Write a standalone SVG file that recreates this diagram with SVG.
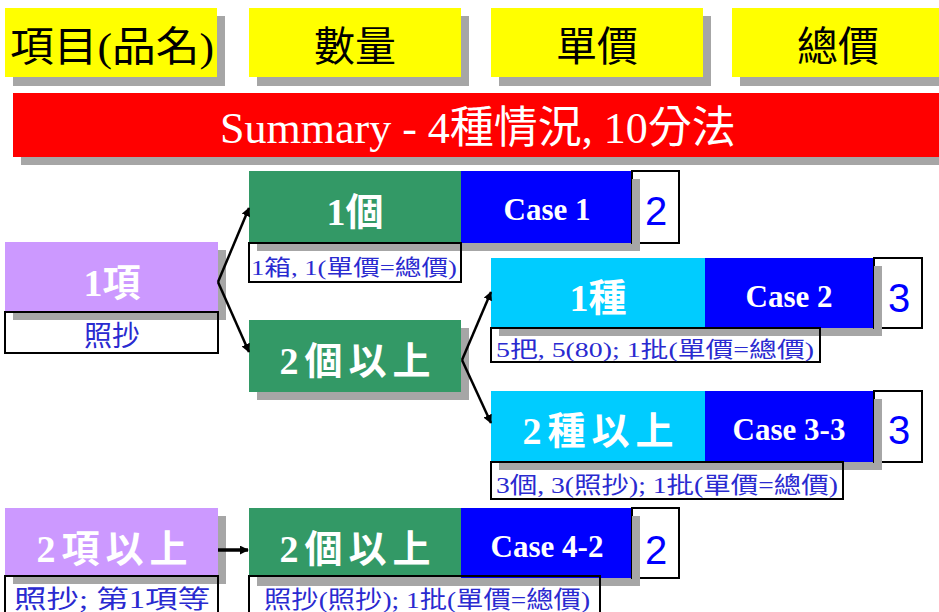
<svg xmlns="http://www.w3.org/2000/svg" width="939" height="612" viewBox="0 0 939 612">
<defs>
<marker id="ah" viewBox="0 0 10 10" refX="9" refY="5" markerWidth="9" markerHeight="9" orient="auto" markerUnits="userSpaceOnUse">
<path d="M0,0 L10,5 L0,10 z" fill="#000"/>
</marker>
<style>
.sh{fill:#a6a6a6}
.yel{fill:#ffff00}
.red{fill:#ff0000}
.pur{fill:#cc99ff}
.grn{fill:#339966}
.cyn{fill:#00ccff}
.blu{fill:#0000ff}
.wb{fill:#fff}
.bd{fill:none;stroke:#000;stroke-width:2}
.hd{font-family:"Liberation Serif","Noto Sans CJK TC",serif;font-size:41px;fill:#000;text-anchor:middle}
.big{font-family:"Liberation Serif","Noto Sans CJK TC",serif;font-size:38px;font-weight:bold;fill:#fff;text-anchor:middle}
.big4{letter-spacing:6px}
.case{font-family:"Liberation Serif",serif;font-size:31px;font-weight:bold;fill:#fff;text-anchor:middle}
.num{font-family:"Liberation Sans",sans-serif;font-size:40px;fill:#0000ff;text-anchor:middle}
.sub{font-family:"Liberation Serif","Noto Sans CJK TC",serif;font-size:21px;fill:#2a2ad0}
.con{stroke:#000;stroke-width:2.5;fill:none;marker-end:url(#ah)}
</style>
</defs>
<rect width="939" height="612" fill="#fff"/>

<g id="h1"><rect class="sh" x="13" y="16" width="212" height="70"/><rect class="yel" x="5" y="8" width="212" height="69"/><text class="hd" x="112" y="61" textLength="204" lengthAdjust="spacingAndGlyphs">項目(品名)</text></g>
<g id="h2"><rect class="sh" x="257" y="16" width="212" height="70"/><rect class="yel" x="249" y="8" width="212" height="69"/><text class="hd" x="355" y="61">數量</text></g>
<g id="h3"><rect class="sh" x="499" y="16" width="212" height="70"/><rect class="yel" x="491" y="8" width="212" height="69"/><text class="hd" x="597" y="61">單價</text></g>
<g id="h4"><rect class="sh" x="740" y="16" width="210" height="70"/><rect class="yel" x="732" y="8" width="210" height="69"/><text class="hd" x="838" y="61">總價</text></g>

<g id="summary"><rect class="sh" x="21" y="101" width="930" height="64"/><rect class="red" x="13" y="93" width="930" height="64"/><text x="478" y="143" font-family="'Liberation Serif','Noto Sans CJK TC',serif" font-size="44" fill="#fff" text-anchor="middle">Summary - 4種情況, 10分法</text></g>

<g id="n1item">
<rect class="wb" x="5" y="312" width="213" height="41"/>
<rect class="sh" x="13" y="250" width="213" height="70"/>
<rect class="pur" x="5" y="242" width="213" height="70"/>
<rect class="bd" x="5" y="312" width="213" height="41"/>
<text class="big" x="112" y="296">1項</text>
<text class="sub" x="112" y="346" style="text-anchor:middle;font-size:28px">照抄</text>
</g>

<g id="n1ge">
<rect class="wb" x="249" y="243" width="212" height="39"/>
<rect class="sh" x="257" y="179" width="383" height="72"/>
<rect class="grn" x="249" y="171" width="212" height="72"/>
<rect class="blu" x="461" y="171" width="171" height="72"/>
<rect class="bd" x="632" y="171" width="47" height="72"/>
<rect class="sh" x="632" y="179" width="8" height="72"/>
<rect class="bd" x="249" y="243" width="212" height="39"/>
<text class="big" x="355" y="225">1個</text>
<text class="case" x="547" y="220">Case 1</text>
<text class="num" x="656" y="225">2</text>
<text class="sub" x="251" y="275" style="font-size:22px" textLength="206" lengthAdjust="spacingAndGlyphs">1箱, 1(單價=總價)</text>
</g>

<g id="n2ge">
<rect class="sh" x="257" y="328" width="212" height="72"/>
<rect class="grn" x="249" y="320" width="212" height="72"/>
<text class="big big4" x="358" y="374">2個以上</text>
</g>

<g id="n1zhong">
<rect class="wb" x="491" y="328" width="329" height="34"/>
<rect class="sh" x="499" y="266" width="383" height="70"/>
<rect class="cyn" x="491" y="258" width="214" height="70"/>
<rect class="blu" x="705" y="258" width="169" height="70"/>
<rect class="bd" x="874" y="258" width="48" height="70"/>
<rect class="sh" x="874" y="266" width="8" height="70"/>
<rect class="bd" x="491" y="328" width="329" height="34"/>
<text class="big" x="598" y="311">1種</text>
<text class="case" x="789" y="307">Case 2</text>
<text class="num" x="899" y="312">3</text>
<text class="sub" x="496" y="357" style="font-size:22px" textLength="318" lengthAdjust="spacingAndGlyphs">5把, 5(80); 1批(單價=總價)</text>
</g>

<g id="n2zhong">
<rect class="wb" x="491" y="462" width="352" height="37"/>
<rect class="sh" x="499" y="399" width="383" height="71"/>
<rect class="cyn" x="491" y="391" width="214" height="71"/>
<rect class="blu" x="705" y="391" width="169" height="71"/>
<rect class="bd" x="874" y="391" width="48" height="71"/>
<rect class="sh" x="874" y="399" width="8" height="71"/>
<rect class="bd" x="491" y="462" width="352" height="37"/>
<text class="big big4" x="601" y="444">2種以上</text>
<text class="case" x="789" y="440">Case 3-3</text>
<text class="num" x="899" y="444">3</text>
<text class="sub" x="496" y="493" style="font-size:23px" textLength="342" lengthAdjust="spacingAndGlyphs">3個, 3(照抄); 1批(單價=總價)</text>
</g>

<g id="n2item">
<rect class="wb" x="5" y="576" width="213" height="40"/>
<rect class="sh" x="13" y="516" width="213" height="68"/>
<rect class="pur" x="5" y="508" width="213" height="68"/>
<rect class="bd" x="5" y="576" width="213" height="40"/>
<text class="big big4" x="115" y="562">2項以上</text>
<text class="sub" x="14" y="608" style="font-size:25px" textLength="196" lengthAdjust="spacingAndGlyphs">照抄; 第1項等</text>
</g>

<g id="n2ge2">
<rect class="wb" x="249" y="576" width="351" height="40"/>
<rect class="sh" x="257" y="516" width="383" height="70"/>
<rect class="grn" x="249" y="508" width="212" height="68"/>
<rect class="blu" x="461" y="508" width="171" height="70"/>
<rect class="bd" x="632" y="508" width="47" height="70"/>
<rect class="sh" x="632" y="516" width="8" height="70"/>
<rect class="bd" x="249" y="576" width="351" height="40"/>
<text class="big big4" x="358" y="562">2個以上</text>
<text class="case" x="547" y="557">Case 4-2</text>
<text class="num" x="656" y="564">2</text>
<text class="sub" x="264" y="608" style="font-size:24px" textLength="326" lengthAdjust="spacingAndGlyphs">照抄(照抄); 1批(單價=總價)</text>
</g>

<g id="connectors">
<path class="con" d="M218,282 L249,208"/>
<path class="con" d="M218,282 L249,352"/>
<path class="con" d="M462,360 L491,292"/>
<path class="con" d="M462,360 L491,423"/>
<path class="con" d="M218,550 L248,550" style="stroke-width:3.5px"/>
</g>
</svg>
